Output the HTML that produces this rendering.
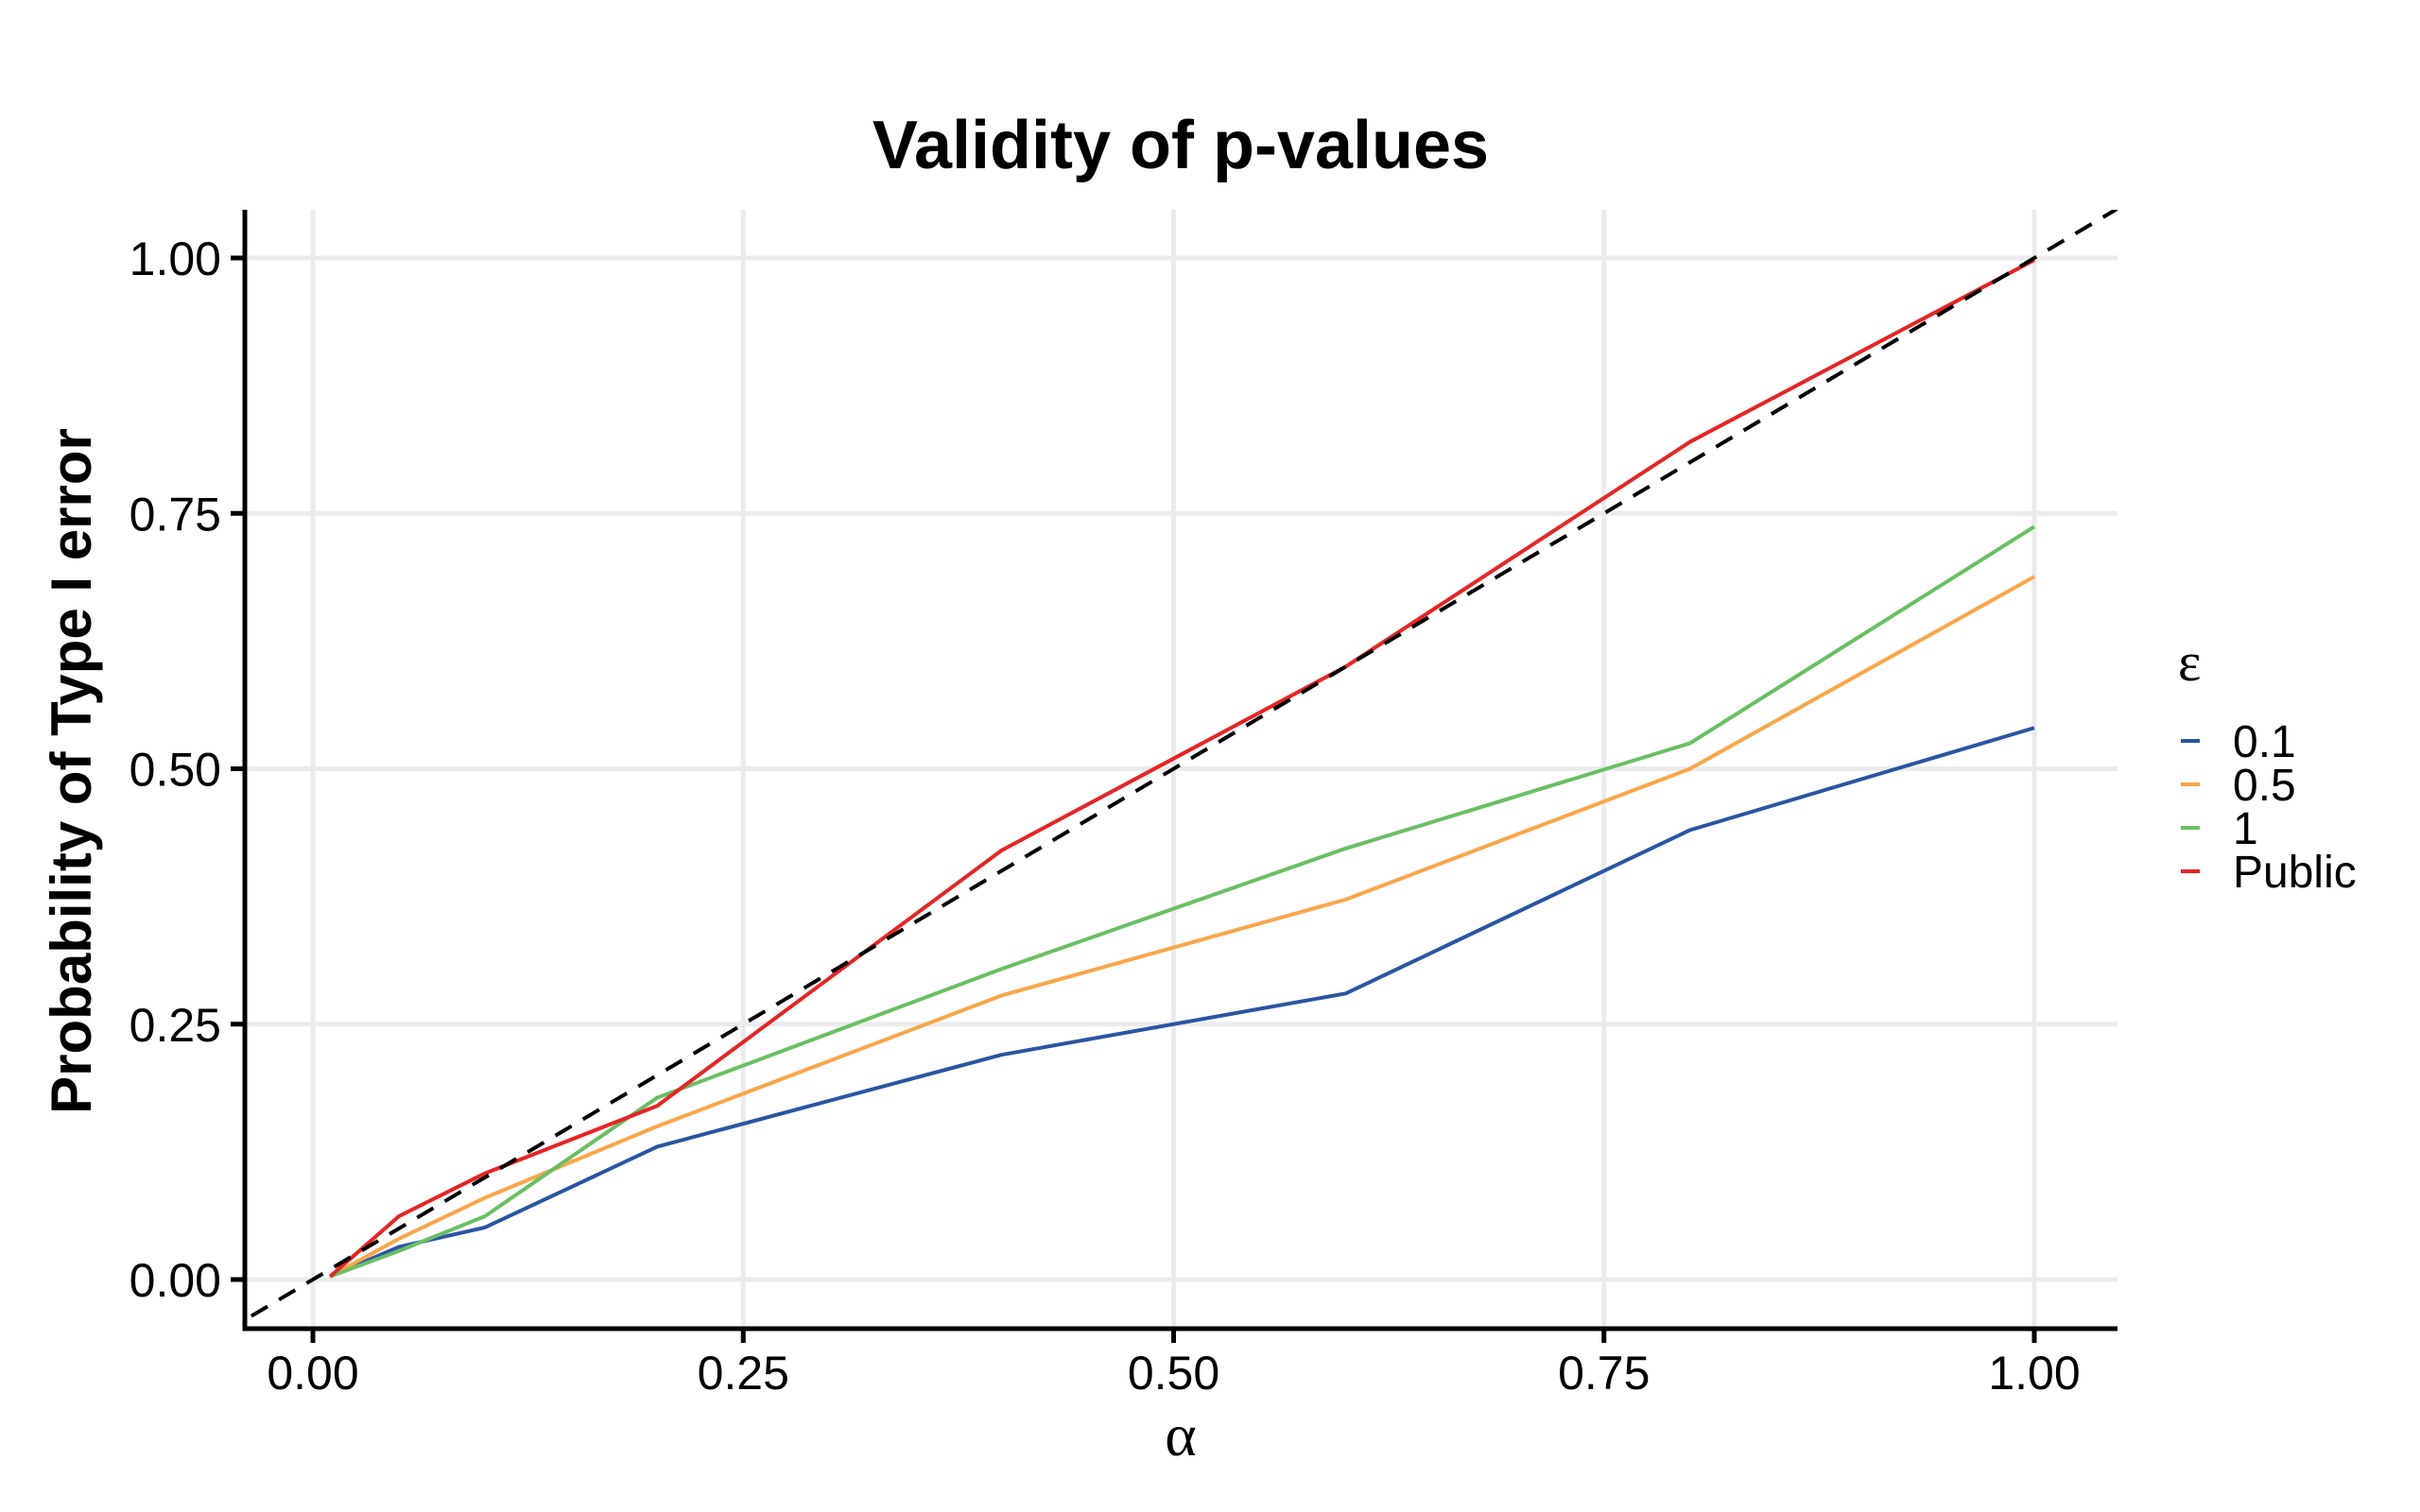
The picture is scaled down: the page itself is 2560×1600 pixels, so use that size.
<!DOCTYPE html>
<html><head><meta charset="utf-8"><style>
html,body{margin:0;padding:0;background:#fff;}
svg{display:block;font-family:"Liberation Sans",sans-serif;}
</style></head><body>
<svg id="chart" width="2560" height="1600" viewBox="0 0 2560 1600">
<defs><clipPath id="clip"><rect x="261" y="222" width="1979" height="1184"/></clipPath></defs>
<text x="1249" y="178" text-anchor="middle" font-size="72" font-weight="bold">Validity of p-values</text>
<g id="grid"></g>
<g id="series" clip-path="url(#clip)"></g>
<g id="axes"></g>
<text transform="translate(96,816) rotate(-90)" text-anchor="middle" font-size="60" font-weight="bold">Probability of Type I error</text>
<text x="1249" y="1540" text-anchor="middle" font-size="64" font-family="Liberation Serif,serif">α</text>
<g id="legend"></g>
</svg>
<script>
const alphas=[0.01,0.05,0.1,0.2,0.4,0.6,0.8,1.0];
const seriesNames=["0.1","0.5","1","Public"];
const s01=[0.003,0.032,0.051,0.13,0.22,0.28,0.44,0.54];
const s05=[0.003,0.04,0.08,0.15,0.278,0.372,0.50,0.688];
const s1=[0.003,0.028,0.062,0.178,0.304,0.422,0.525,0.737];
const sPub=[0.003,0.062,0.104,0.17,0.42,0.60,0.82,0.998];
const colors=["#2b55a3","#f9a64a","#6abf64","#e82326"];
const ticks=[0,0.25,0.5,0.75,1];
const tickLabels=["0.00","0.25","0.50","0.75","1.00"];
const NS="http://www.w3.org/2000/svg";
const X=v=>331+v*(2152-331);
const Y=v=>1354-v*(1354-273);
function mk(t,a,p){const e=document.createElementNS(NS,t);for(const k in a)e.setAttribute(k,a[k]);p.appendChild(e);return e;}
const grid=document.getElementById('grid'),axes=document.getElementById('axes'),ser=document.getElementById('series'),leg=document.getElementById('legend');
ticks.forEach((t,i)=>{
 const gh=mk('line',{x1:261,x2:2240,y1:Y(t),y2:Y(t),stroke:'#ebebeb','stroke-width':5},grid);
 
 const gv=mk('line',{x1:X(t),x2:X(t),y1:222,y2:1406,stroke:'#ebebeb','stroke-width':5},grid);
 
 const ty=mk('line',{x1:244,x2:259,y1:Y(t),y2:Y(t),stroke:'#000','stroke-width':5},axes);
 
 const tx=mk('line',{x1:X(t),x2:X(t),y1:1406,y2:1421,stroke:'#000','stroke-width':5},axes);
 
 const ly=mk('text',{x:234,y:Y(t)+18,'text-anchor':'end','font-size':50},axes);ly.textContent=tickLabels[i];
 
 const lx=mk('text',{x:X(t),y:1470,'text-anchor':'middle','font-size':50},axes);lx.textContent=tickLabels[i];
 
});
const ax=mk('path',{d:'M259,222 V1406 H2240',fill:'none',stroke:'#000','stroke-width':5},axes);

[s01,s05,s1,sPub].forEach((s,i)=>{
 const pl=mk('polyline',{points:alphas.map((a,j)=>X(a)+','+Y(s[j])).join(' '),fill:'none',stroke:colors[i],'stroke-width':4,'stroke-linejoin':'round'},ser);
 
 
});
const ref=mk('line',{x1:X(-0.1),y1:Y(-0.1),x2:X(1.1),y2:Y(1.1),stroke:'#000','stroke-width':4,'stroke-dasharray':'20 14'},ser);

const lt=mk('text',{x:2304,y:720,'font-size':58,'font-family':'Liberation Serif,serif'},leg);lt.textContent='ε';

seriesNames.forEach((n,i)=>{
 const y=784+i*46;
 const k=mk('line',{x1:2307,x2:2327,y1:y,y2:y,stroke:colors[i],'stroke-width':4},leg);
 
 const t=mk('text',{x:2362,y:y+17,'font-size':48},leg);t.textContent=n;
 
});
</script>
</body></html>
